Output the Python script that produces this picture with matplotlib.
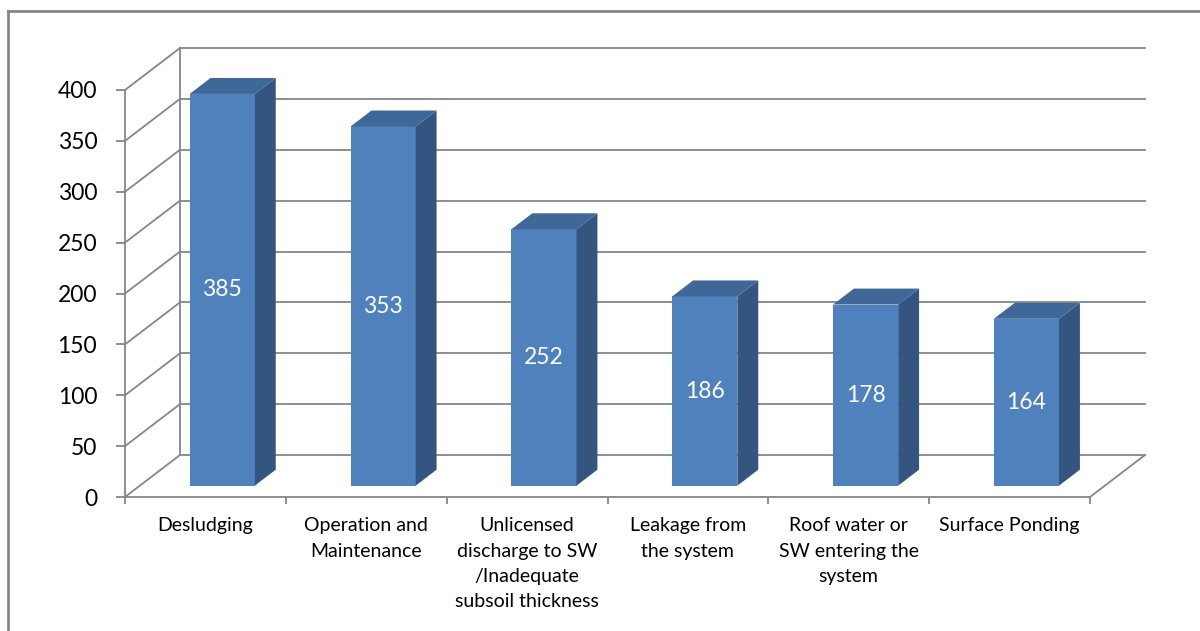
import matplotlib.pyplot as plt
from matplotlib.patches import Polygon

plt.rcParams['font.family'] = ['Lato', 'DejaVu Sans']

categories = ['Desludging', 'Operation and\nMaintenance',
              'Unlicensed\ndischarge to SW\n/Inadequate\nsubsoil thickness',
              'Leakage from\nthe system', 'Roof water or\nSW entering the\nsystem',
              'Surface Ponding']
values = [385, 353, 252, 186, 178, 164]
yticks = [0, 50, 100, 150, 200, 250, 300, 350, 400]

W, H = 1200, 631
fig = plt.figure(figsize=(12, 6.31), dpi=100)
# front plane of the 3D box in pixels: x 125..1090, y(0)=497, y(400)=90
ax = fig.add_axes([125 / W, (H - 497) / H, (1090 - 125) / W, (497 - 90) / H])
ax.set_xlim(0, 6)
ax.set_ylim(0, 400)

# depth offset of back wall, data units
dx = 55 / ((1090 - 125) / 6)
dy = 42 / ((497 - 90) / 400)
grid = '#868686'
lw = 1.3

# back wall gridlines + left wall diagonals
for v in yticks:
    ax.plot([dx, 6 + dx], [v + dy, v + dy], color=grid, lw=lw, clip_on=False, zorder=1)
    ax.plot([0, dx], [v, v + dy], color=grid, lw=lw, clip_on=False, zorder=1)
ax.plot([dx, dx], [dy, 400 + dy], color=grid, lw=lw, clip_on=False, zorder=1)
# floor right edge
ax.plot([6, 6 + dx], [0, dy], color=grid, lw=lw, clip_on=False, zorder=1)

# bars
f0, f1 = 0.27, 0.65
x0, x1 = 0.31, 0.715
front_c, side_c, top_c = '#4F81BD', '#34557F', '#3F6798'
for i, v in enumerate(values):
    ox, oy = f0 * dx, f0 * dy
    bx, by = f1 * dx, f1 * dy
    L, R = i + x0 + ox, i + x1 + ox
    B, T = oy, v + oy
    ex, ey = bx - ox, by - oy
    ax.add_patch(Polygon([(L, B), (R, B), (R, T), (L, T)], closed=True,
                         fc=front_c, ec='none', clip_on=False, zorder=3))
    ax.add_patch(Polygon([(R, B), (R + ex, B + ey), (R + ex, T + ey), (R, T)], closed=True,
                         fc=side_c, ec='none', clip_on=False, zorder=3))
    ax.add_patch(Polygon([(L, T), (R, T), (R + ex, T + ey), (L + ex, T + ey)], closed=True,
                         fc=top_c, ec='none', clip_on=False, zorder=3))
    ax.text((L + R) / 2, (B + T) / 2, str(v), color='white', fontsize=16.5,
            ha='center', va='center', zorder=4)

# axes styling
for s in ['top', 'right']:
    ax.spines[s].set_visible(False)
for s in ['left', 'bottom']:
    ax.spines[s].set_color(grid)
    ax.spines[s].set_linewidth(lw)
ax.set_facecolor('none')
ax.set_yticks(yticks)
ax.tick_params(axis='y', length=6.5, width=lw, color=grid, pad=13.5, labelsize=16.5,
               labelcolor='black')
ax.set_xticks([i + 0.5 for i in range(6)])
ax.set_xticklabels(categories, linespacing=1.6)
ax.set_xticks(range(7), minor=True)
ax.tick_params(axis='x', which='major', length=0, pad=14.5, labelsize=14)
ax.tick_params(axis='x', which='minor', length=5, width=lw, color=grid)

# chart frame (top and left edges visible)
fig.add_artist(plt.Line2D([8 / W, 1], [1 - 11 / H, 1 - 11 / H], color=grid, lw=2))
fig.add_artist(plt.Line2D([8 / W, 8 / W], [0, 1 - 11 / H], color=grid, lw=2))

fig.savefig('out.png', dpi=100)
